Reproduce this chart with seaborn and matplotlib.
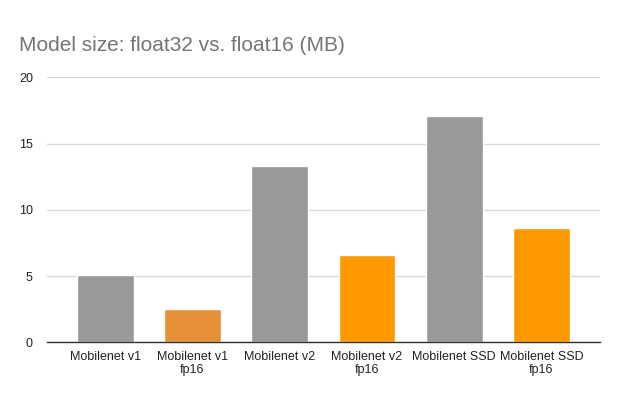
import pandas as pd
import matplotlib.pyplot as plt
import seaborn as sns

# values
models = ["Mobilenet v1", "Mobilenet v1\nfp16", "Mobilenet v2", "Mobilenet v2\nfp16",
          "Mobilenet SSD", "Mobilenet SSD\nfp16"]
size_mb = [5.1, 2.5, 13.3, 6.6, 17.1, 8.6]
bar_colors = ["#999999", "#E69138", "#999999", "#FF9900", "#999999", "#FF9900"]
y_ticks = [0, 5, 10, 15, 20]

df = pd.DataFrame({"model": models, "size": size_mb})

sns.set_style("white")
plt.rcParams["font.family"] = ["Liberation Sans", "DejaVu Sans"]

fig = plt.figure(figsize=(6.4, 3.99), dpi=100)
ax = fig.add_axes([0.073, 0.142, 0.8645, 0.664])

sns.barplot(data=df, x="model", y="size", hue="model", palette=bar_colors,
            legend=False, width=0.65, saturation=1, ax=ax)

ax.set_ylim(0, 20)
ax.set_xlim(-0.67, 5.67)
ax.set_yticks(y_ticks)
ax.yaxis.grid(True, color="#d9d9d9", linewidth=1)
ax.set_axisbelow(True)
ax.set_xlabel("")
ax.set_ylabel("")
ax.tick_params(axis="both", length=0, labelsize=9, labelcolor="#222222")
ax.tick_params(axis="y", pad=10)
ax.tick_params(axis="x", pad=6)
for side in ["top", "right", "left"]:
    ax.spines[side].set_visible(False)
ax.spines["bottom"].set_color("#333333")
ax.spines["bottom"].set_linewidth(1)

fig.text(0.03, 0.885, "Model size: float32 vs. float16 (MB)", fontsize=15,
         color="#757575", va="center", ha="left")

fig.savefig("out.png", dpi=100)
